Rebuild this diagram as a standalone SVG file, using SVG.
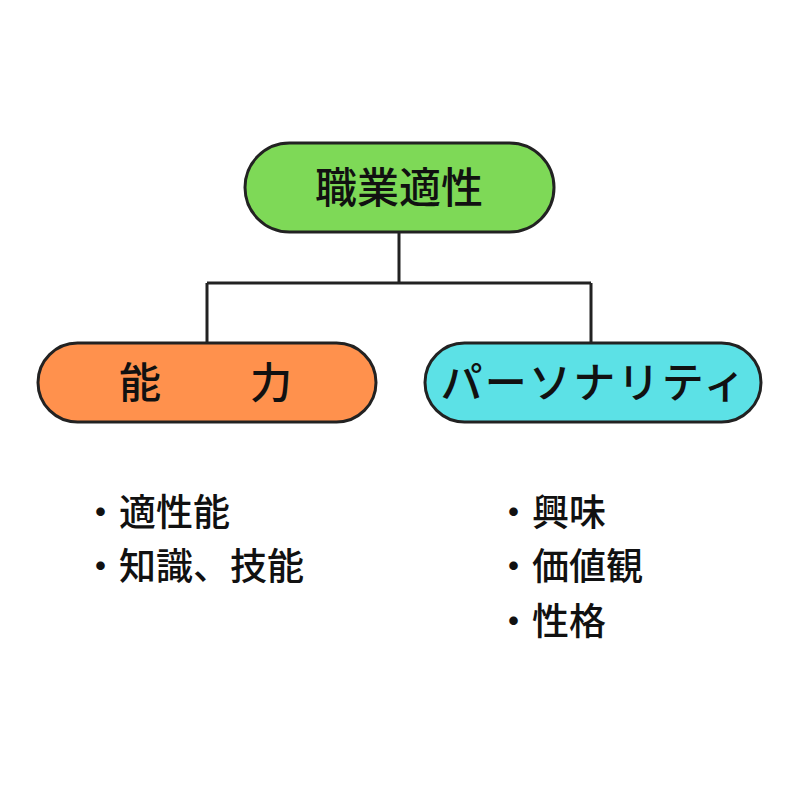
<svg xmlns="http://www.w3.org/2000/svg" width="800" height="800" viewBox="0 0 800 800">
<style>
.n{stroke:#222;stroke-width:3}
.t{font-family:"Noto Sans CJK JP",sans-serif;font-weight:500;font-size:42px;fill:#111}
.l{font-family:"Noto Sans CJK JP",sans-serif;font-weight:500;font-size:37px;fill:#111}
.c{fill:none;stroke:#222;stroke-width:3}
</style>
<rect width="800" height="800" fill="#fff"/>
<g id="connectors">
<path class="c" d="M399 232V283M207 283H591M207 283V343M591 283V343"/>
</g>
<g id="top"><rect class="n" x="245" y="143" width="309" height="89" rx="44.5" fill="#7ed957"/>
<text class="t" x="399" y="203" text-anchor="middle">職業適性</text></g>
<g id="ability"><rect class="n" x="38" y="343" width="338" height="79" rx="39.5" fill="#ff914d"/>
<text class="t" x="119" y="398">能</text><text class="t" x="250" y="398">力</text></g>
<g id="personality"><rect class="n" x="425" y="343" width="336" height="79" rx="39.5" fill="#5ce1e6"/>
<text class="t" x="593" y="398" text-anchor="middle" textLength="305">パーソナリティ</text></g>
<g id="list1"><text class="l" x="82" y="526">・適性能</text><text class="l" x="82" y="580">・知識、技能</text></g>
<g id="list2"><text class="l" x="495" y="526">・興味</text><text class="l" x="495" y="580">・価値観</text><text class="l" x="495" y="635">・性格</text></g>
</svg>
